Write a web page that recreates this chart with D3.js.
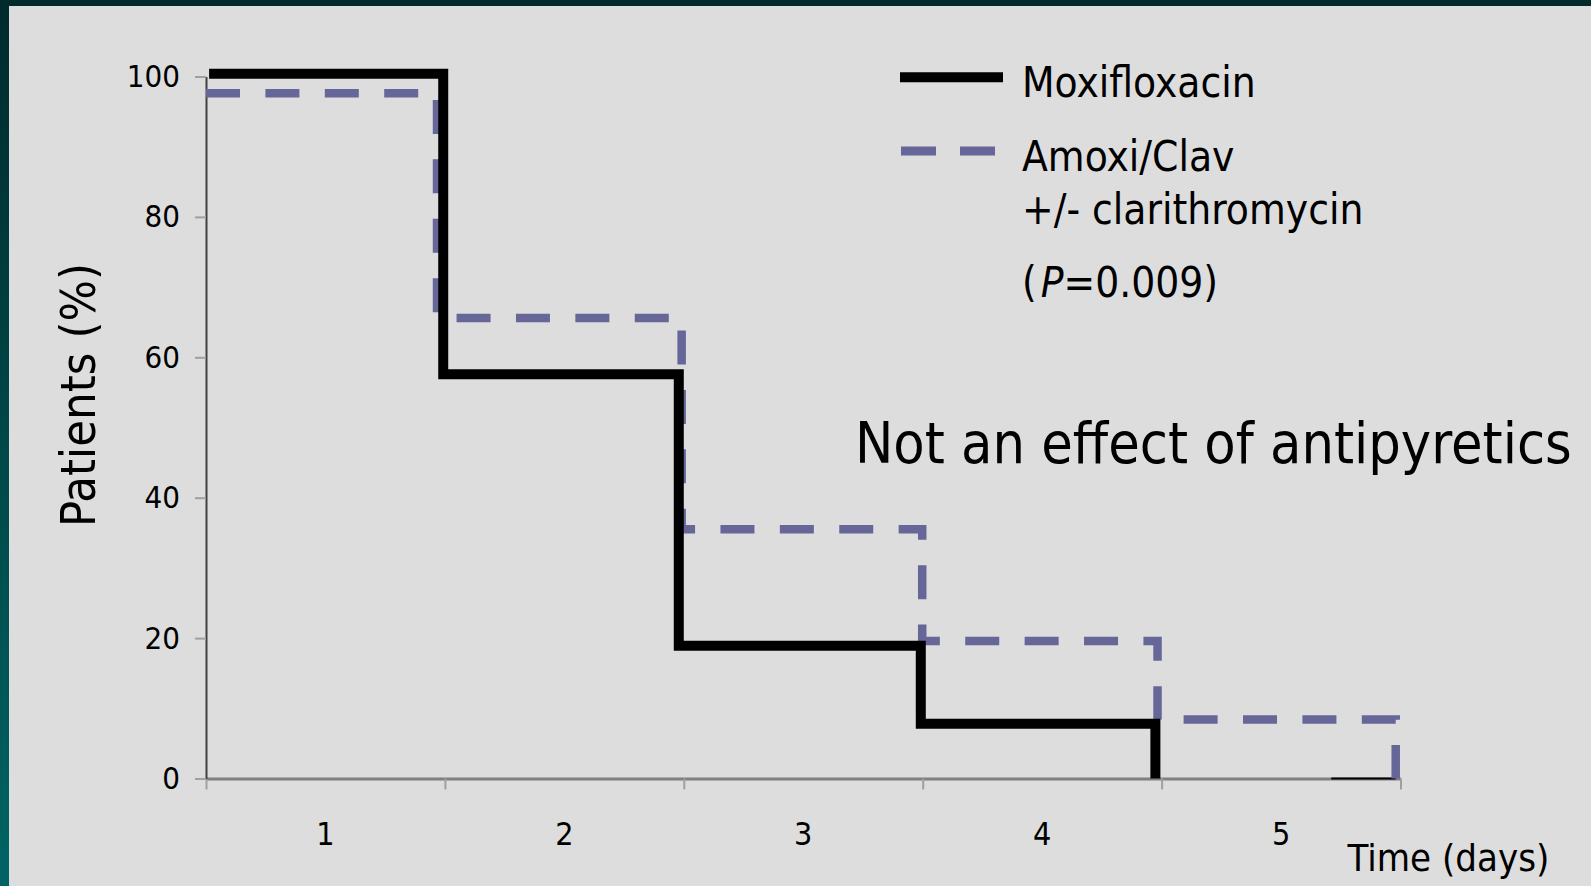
<!DOCTYPE html>
<html>
<head>
<meta charset="utf-8">
<script src="https://cdn.jsdelivr.net/npm/d3@7"></script>
<style>
  html, body { margin: 0; padding: 0; background: #002b2d; }
  svg { display: block; }
  text { font-family: "DejaVu Sans Condensed", "DejaVu Sans", sans-serif; fill: #000; }
</style>
</head>
<body>
<svg id="chart" width="1591" height="886"></svg>
<script>
// ---- data ----
const dayLabels = ["1", "2", "3", "4", "5"];
const yTickValues = [0, 20, 40, 60, 80, 100];
const moxiTimes = [0.013, 0.993, 1.979, 2.992, 3.974];
const moxiValues = [100.4, 57.6, 18.9, 7.8, 0];
const amoxTimes = [0, 0.967, 1.991, 2.998, 3.983, 4.980];
const amoxValues = [97.6, 65.6, 35.5, 19.6, 8.4, 0];
const moxiTailTimes = [4.71, 4.98];
const moxiTailValues = [0, 0];
const seriesNames = ["Moxifloxacin", "Amoxi/Clav", "+/- clarithromycin"];
const pValueText = "=0.009)";
const annotation = "Not an effect of antipyretics";
const yTitle = "Patients (%)";
const xTitle = "Time (days)";

const svg = d3.select("#chart");
const W = 1591, H = 886;

// background frame
const defs = svg.append("defs");
const grad = defs.append("linearGradient").attr("id", "frame")
  .attr("x1", 0).attr("y1", 0).attr("x2", 0).attr("y2", 1);
grad.append("stop").attr("offset", "0%").attr("stop-color", "#002a2c");
grad.append("stop").attr("offset", "100%").attr("stop-color", "#006464");
svg.append("rect").attr("width", W).attr("height", H).attr("fill", "url(#frame)");
svg.append("rect").attr("x", 9).attr("y", 6).attr("width", W - 9).attr("height", H - 6).attr("fill", "#dddddd");

// scales
const x = d3.scaleLinear().domain([0, 5]).range([206, 1400.5]);
const y = d3.scaleLinear().domain([0, 100]).range([778.5, 76.5]);

// x axis
const xAxis = svg.append("g").attr("transform", `translate(0,${y(0)})`)
  .call(d3.axisBottom(x).tickValues([0, 1, 2, 3, 4, 5]).tickFormat("").tickSize(11).tickSizeOuter(0));
xAxis.select(".domain").attr("stroke", "#808080").attr("stroke-width", 3);
xAxis.selectAll(".tick line").attr("stroke", "#a0a0a0").attr("stroke-width", 2);

svg.append("g").selectAll("text").data(dayLabels).join("text")
  .attr("x", (d, i) => x(i + 0.5))
  .attr("y", 845)
  .attr("text-anchor", "middle")
  .attr("font-size", 32)
  .text(d => d);

// y axis
const yAxis = svg.append("g").attr("transform", `translate(${x(0)},0)`)
  .call(d3.axisLeft(y).tickValues(yTickValues).tickSize(11).tickPadding(15).tickSizeOuter(0));
yAxis.select(".domain").attr("stroke", "#404040").attr("stroke-width", 2);
yAxis.selectAll(".tick line").attr("stroke", "#a0a0a0").attr("stroke-width", 2);
yAxis.selectAll(".tick text").attr("font-size", 31).attr("fill", "#000")
  .attr("font-family", '"DejaVu Sans Condensed", "DejaVu Sans", sans-serif');

// lines
const line = d3.line().x(d => x(d.t)).y(d => y(d.v)).curve(d3.curveStepAfter);
const moxi = moxiTimes.map((t, i) => ({ t, v: moxiValues[i] }));
const amox = amoxTimes.map((t, i) => ({ t, v: amoxValues[i] }));
const tail = moxiTailTimes.map((t, i) => ({ t, v: moxiTailValues[i] }));

svg.append("path").datum(tail).attr("d", d3.line().x(d => x(d.t)).y(d => y(d.v)))
  .attr("fill", "none").attr("stroke", "#000").attr("stroke-width", 2);

svg.append("path").datum(amox).attr("d", line)
  .attr("fill", "none").attr("stroke", "#666699").attr("stroke-width", 8.5)
  .attr("stroke-dasharray", "34,25.4").attr("stroke-linejoin", "miter");

svg.append("path").datum(moxi).attr("d", line)
  .attr("fill", "none").attr("stroke", "#000").attr("stroke-width", 10)
  .attr("stroke-linejoin", "miter");

// legend
svg.append("line").attr("x1", 900).attr("x2", 1003).attr("y1", 77.3).attr("y2", 77.3)
  .attr("stroke", "#000").attr("stroke-width", 10);
svg.append("line").attr("x1", 901).attr("x2", 995).attr("y1", 151).attr("y2", 151)
  .attr("stroke", "#666699").attr("stroke-width", 9).attr("stroke-dasharray", "35,24");

const legendFont = 42;
svg.append("text").attr("x", 1022).attr("y", 97.3).attr("font-size", legendFont).text(seriesNames[0]);
svg.append("text").attr("x", 1022).attr("y", 171).attr("font-size", legendFont).text(seriesNames[1]);
svg.append("text").attr("x", 1022).attr("y", 224).attr("font-size", legendFont).text(seriesNames[2]);
const pt = svg.append("text").attr("x", 1022).attr("y", 297).attr("font-size", legendFont);
pt.append("tspan").text("(");
pt.append("tspan").attr("font-style", "italic").attr("dx", 4).text("P");
pt.append("tspan").text(pValueText);

// annotation
svg.append("text").attr("x", 855).attr("y", 462.7).attr("font-size", 57).text(annotation);

// axis titles
svg.append("text").attr("transform", "translate(95,395) rotate(-90)")
  .attr("text-anchor", "middle").attr("font-size", 48.5).text(yTitle);
svg.append("text").attr("x", 1347.5).attr("y", 870.6).attr("font-size", 38).text(xTitle);
</script>
</body>
</html>
